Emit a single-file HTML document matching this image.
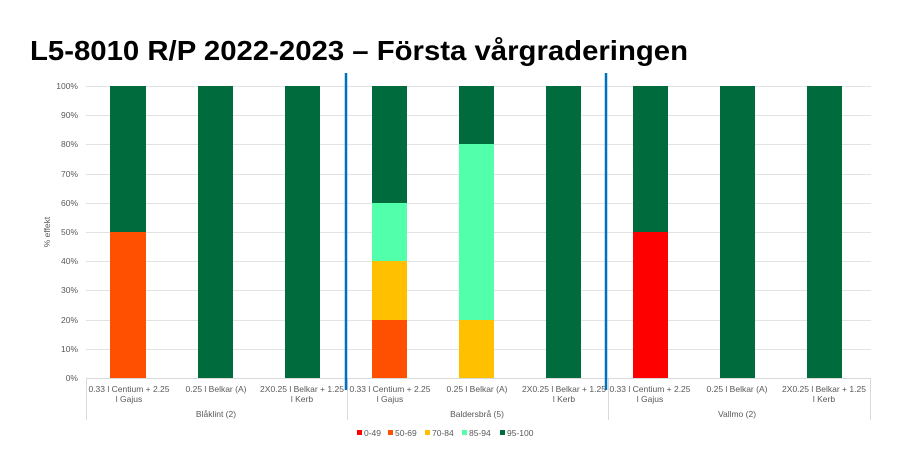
<!DOCTYPE html>
<html><head><meta charset="utf-8"><style>
html,body{margin:0;padding:0;background:#fff;}
svg{display:block;font-family:"Liberation Sans",Arial,sans-serif;}
</style></head><body>
<svg width="903" height="459" viewBox="0 0 903 459" xmlns="http://www.w3.org/2000/svg">
<rect width="903" height="459" fill="#fff"/>
<text x="30" y="60" font-size="28" font-weight="bold" fill="#000" textLength="658" lengthAdjust="spacingAndGlyphs">L5-8010 R/P 2022-2023 – Första vårgraderingen</text>
<g stroke="#e3e3e3" stroke-width="1">
<line x1="86" y1="86.5" x2="871" y2="86.5"/><line x1="86" y1="115.5" x2="871" y2="115.5"/>
<line x1="86" y1="144.5" x2="871" y2="144.5"/><line x1="86" y1="174.5" x2="871" y2="174.5"/>
<line x1="86" y1="203.5" x2="871" y2="203.5"/><line x1="86" y1="232.5" x2="871" y2="232.5"/>
<line x1="86" y1="261.5" x2="871" y2="261.5"/><line x1="86" y1="290.5" x2="871" y2="290.5"/>
<line x1="86" y1="320.5" x2="871" y2="320.5"/><line x1="86" y1="349.5" x2="871" y2="349.5"/>
</g>
<g stroke="#d9d9d9"><line x1="86" y1="378.5" x2="871" y2="378.5"/>
<line x1="86.5" y1="378" x2="86.5" y2="420"/><line x1="347.5" y1="378" x2="347.5" y2="420"/>
<line x1="608.5" y1="378" x2="608.5" y2="420"/><line x1="870.5" y1="378" x2="870.5" y2="420"/></g>
<g font-size="8.5" fill="#595959" text-anchor="end">
<text x="78" y="89">100%</text><text x="78" y="118">90%</text><text x="78" y="147">80%</text>
<text x="78" y="177">70%</text><text x="78" y="206">60%</text><text x="78" y="235">50%</text>
<text x="78" y="264">40%</text><text x="78" y="293">30%</text><text x="78" y="323">20%</text>
<text x="78" y="352">10%</text><text x="78" y="381">0%</text>
</g>
<text transform="translate(50,232) rotate(-90)" font-size="8.5" fill="#595959" text-anchor="middle">% effekt</text>
<!-- bars -->
<rect x="110" y="86" width="36" height="146" fill="#006B3C"/>
<rect x="110" y="232" width="36" height="146" fill="#FF4F00"/>
<rect x="198" y="86" width="35" height="292" fill="#006B3C"/>
<rect x="285" y="86" width="35" height="292" fill="#006B3C"/>
<rect x="372" y="86" width="35" height="117" fill="#006B3C"/>
<rect x="372" y="203" width="35" height="58" fill="#52FFAA"/>
<rect x="372" y="261" width="35" height="59" fill="#FFC000"/>
<rect x="372" y="320" width="35" height="58" fill="#FF4F00"/>
<rect x="459" y="86" width="35" height="58" fill="#006B3C"/>
<rect x="459" y="144" width="35" height="176" fill="#52FFAA"/>
<rect x="459" y="320" width="35" height="58" fill="#FFC000"/>
<rect x="546" y="86" width="35" height="292" fill="#006B3C"/>
<rect x="633" y="86" width="35" height="146" fill="#006B3C"/>
<rect x="633" y="232" width="35" height="146" fill="#FF0000"/>
<rect x="720" y="86" width="35" height="292" fill="#006B3C"/>
<rect x="807" y="86" width="35" height="292" fill="#006B3C"/>
<g stroke="#0070C0" stroke-width="2.5"><line x1="346" y1="73" x2="346" y2="390"/><line x1="606" y1="73" x2="606" y2="390"/></g>
<g font-size="8.5" fill="#595959" text-anchor="middle">
<text x="129" y="392">0.33 l Centium + 2.25</text><text x="129" y="402">l Gajus</text>
<text x="216" y="392">0.25 l Belkar (A)</text>
<text x="302" y="392">2X0.25 l Belkar + 1.25</text><text x="302" y="402">l Kerb</text>
<text x="390" y="392">0.33 l Centium + 2.25</text><text x="390" y="402">l Gajus</text>
<text x="477" y="392">0.25 l Belkar (A)</text>
<text x="564" y="392">2X0.25 l Belkar + 1.25</text><text x="564" y="402">l Kerb</text>
<text x="650" y="392">0.33 l Centium + 2.25</text><text x="650" y="402">l Gajus</text>
<text x="737" y="392">0.25 l Belkar (A)</text>
<text x="824" y="392">2X0.25 l Belkar + 1.25</text><text x="824" y="402">l Kerb</text>
<text x="216" y="417">Blåklint (2)</text>
<text x="477" y="417">Baldersbrå (5)</text>
<text x="737" y="417">Vallmo (2)</text>
</g>
<g font-size="8.5" fill="#595959">
<rect x="357" y="430" width="5" height="5" fill="#FF0000"/><text x="364" y="436">0-49</text>
<rect x="388" y="430" width="5" height="5" fill="#FF4F00"/><text x="395" y="436">50-69</text>
<rect x="425" y="430" width="5" height="5" fill="#FFC000"/><text x="432" y="436">70-84</text>
<rect x="462" y="430" width="5" height="5" fill="#52FFAA"/><text x="469" y="436">85-94</text>
<rect x="500" y="430" width="5" height="5" fill="#006B3C"/><text x="507" y="436">95-100</text>
</g>
</svg>
</body></html>
